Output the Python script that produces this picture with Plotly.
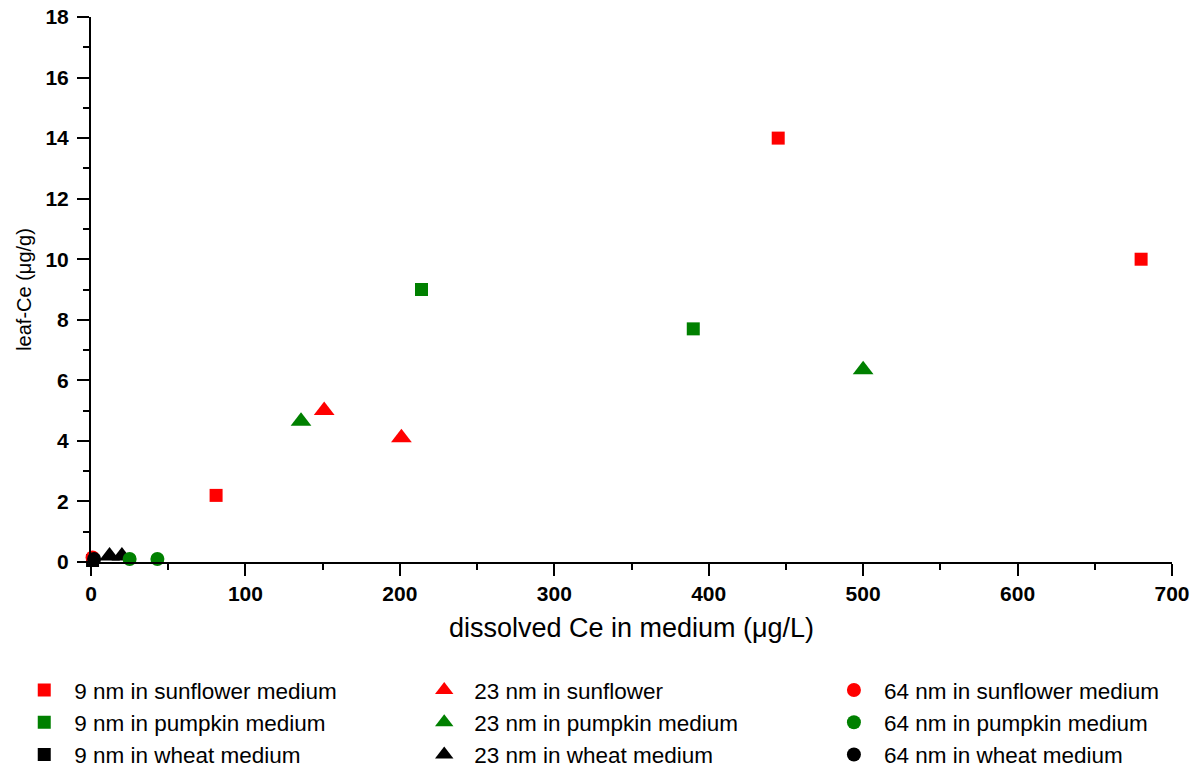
import plotly.graph_objects as go

# Data
names = [
    "9 nm in sunflower medium", "9 nm in pumpkin medium", "9 nm in wheat medium",
    "23 nm in sunflower", "23 nm in pumpkin medium", "23 nm in wheat medium",
    "64 nm in sunflower medium", "64 nm in pumpkin medium", "64 nm in wheat medium",
]
sun9_x = [81, 445, 680]
sun9_y = [2.2, 14.0, 10.0]
pump9_x = [214, 390]
pump9_y = [9.0, 7.7]
wheat9_x = [1]
wheat9_y = [0.05]
sun23_x = [151, 201]
sun23_y = [5.0, 4.1]
pump23_x = [136, 500]
pump23_y = [4.65, 6.35]
wheat23_x = [12, 20]
wheat23_y = [0.2, 0.2]
sun64_x = [1]
sun64_y = [0.15]
pump64_x = [25, 43]
pump64_y = [0.1, 0.1]
wheat64_x = [2]
wheat64_y = [0.1]

xs_all = [sun9_x, pump9_x, wheat9_x, sun23_x, pump23_x, wheat23_x, sun64_x, pump64_x, wheat64_x]
ys_all = [sun9_y, pump9_y, wheat9_y, sun23_y, pump23_y, wheat23_y, sun64_y, pump64_y, wheat64_y]
colors = ["#FF0000", "#008000", "#000000"] * 3
symbols = ["square"] * 3 + ["triangle-up"] * 3 + ["circle"] * 3
sizes = [13] * 3 + [18] * 3 + [14] * 3
legends = ["legend"] * 3 + ["legend2"] * 3 + ["legend3"] * 3

fig = go.Figure()
for name, xs, ys, col, sym, sz, lg in zip(names, xs_all, ys_all, colors, symbols, sizes, legends):
    fig.add_trace(go.Scatter(
        x=xs, y=ys, mode="markers", name=name, cliponaxis=False, legend=lg,
        marker=dict(color=col, symbol=sym, size=sz, line=dict(width=0)),
    ))

font_family = "Liberation Sans, Arial, sans-serif"
leg_common = dict(
    orientation="v", yanchor="top", xanchor="left",
    font=dict(size=22.5, family=font_family, color="black"),
    bgcolor="rgba(0,0,0,0)", itemsizing="trace", itemwidth=50,
    tracegroupgap=0,
)
fig.update_layout(
    width=1200, height=771,
    margin=dict(l=91, r=28, t=17, b=209, autoexpand=False),
    plot_bgcolor="white", paper_bgcolor="white",
    font=dict(family=font_family, color="black"),
    showlegend=True,
    legend=dict(x=-0.071, y=-0.196, **leg_common),
    legend2=dict(x=0.299, y=-0.196, **leg_common),
    legend3=dict(x=0.678, y=-0.196, **leg_common),
    xaxis=dict(
        range=[0, 700], tickmode="linear", tick0=0, dtick=100,
        showgrid=False, zeroline=False, showline=True, linecolor="black", linewidth=2,
        ticks="outside", ticklen=12, tickwidth=2, tickcolor="black",
        minor=dict(ticks="outside", ticklen=6, tickwidth=2, tickcolor="black", dtick=50, showgrid=False),
        tickfont=dict(size=21, family=font_family, weight="bold", color="black"),
        ticklabelstandoff=0,
        title=dict(text="dissolved Ce in medium (μg/L)", font=dict(size=27, family=font_family), standoff=14),
    ),
    yaxis=dict(
        range=[0, 18], tickmode="linear", tick0=0, dtick=2,
        showgrid=False, zeroline=False, showline=True, linecolor="black", linewidth=2,
        ticks="outside", ticklen=12, tickwidth=2, tickcolor="black",
        minor=dict(ticks="outside", ticklen=6, tickwidth=2, tickcolor="black", dtick=1, showgrid=False),
        tickfont=dict(size=21, family=font_family, weight="bold", color="black"),
        ticklabelstandoff=4,
        title=dict(text="leaf-Ce (μg/g)", font=dict(size=20, family=font_family), standoff=8),
    ),
)

fig.write_html("out.html")
